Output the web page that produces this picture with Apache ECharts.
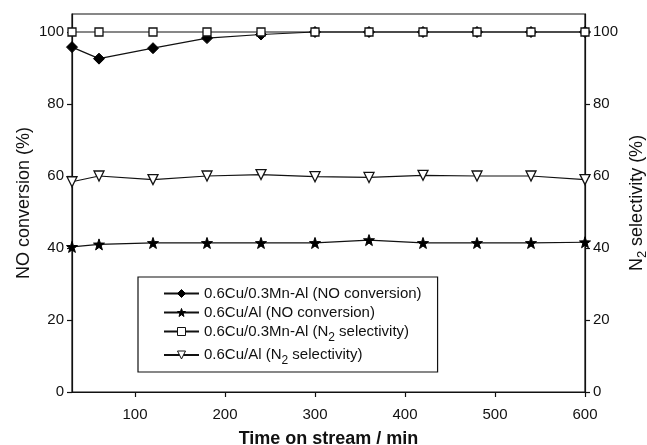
<!DOCTYPE html>
<html>
<head>
<meta charset="utf-8">
<script src="https://cdn.jsdelivr.net/npm/echarts@6/dist/echarts.min.js"></script>
<style>
  html, body { margin: 0; padding: 0; background: #fff; }
  #chart { width: 647px; height: 445px; }
</style>
</head>
<body>
<div id="chart"></div>
<script>
// Time on stream (min)
const times = [30, 60, 120, 180, 240, 300, 360, 420, 480, 540, 600];

// NO conversion (%)
const cuMnConversion = [95.8, 92.6, 95.5, 98.3, 99.3, 100, 100, 100, 100, 100, 100];
const cuConversion   = [40.3, 41.0, 41.4, 41.4, 41.4, 41.4, 42.2, 41.4, 41.4, 41.4, 41.6];

// N2 selectivity (%)
const cuMnSelectivity = [100, 100, 100, 100, 100, 100, 100, 100, 100, 100, 100];
const cuSelectivity   = [58.4, 60.0, 59.0, 60.0, 60.4, 59.8, 59.6, 60.2, 60.0, 60.0, 59.0];

const xTicks = [100, 200, 300, 400, 500, 600];
const yTicks = [0, 20, 40, 60, 80, 100];

const seriesNames = [
  '0.6Cu/0.3Mn-Al (NO conversion)',
  '0.6Cu/Al (NO conversion)',
  '0.6Cu/0.3Mn-Al (N2 selectivity)',
  '0.6Cu/Al (N2 selectivity)'
];

const starPath = 'path://M0,-10 L2.35,-3.24 L9.51,-3.09 L3.8,1.24 L5.88,8.09 L0,4 L-5.88,8.09 L-3.8,1.24 L-9.51,-3.09 L-2.35,-3.24 Z';

const pairs = ys => times.map((t, i) => [t, ys[i]]);

const font = 'Liberation Sans, Arial, sans-serif';

const lineBase = {
  type: 'line',
  lineStyle: { color: '#111', width: 1.2 },
  animation: false
};

const chart = echarts.init(document.getElementById('chart'), null, { renderer: 'canvas' });

const subRich = {
  n: { fontSize: 15, fontFamily: font, color: '#111' },
  s: { fontSize: 12, fontFamily: font, color: '#111', padding: [12, 0, 0, 0] }
};

chart.setOption({
  backgroundColor: '#fff',
  grid: {
    left: 72, right: 62, top: 14, bottom: 53,
    outerBoundsMode: 'none',
    show: true, borderColor: '#111', borderWidth: 1.2, backgroundColor: 'transparent'
  },
  xAxis: {
    type: 'value', min: 30, max: 600,
    name: 'Time on stream / min',
    nameLocation: 'middle', nameGap: 38, nameMoveOverlap: false,
    nameTextStyle: { fontSize: 18, fontWeight: 'bold', fontFamily: font, color: '#111' },
    axisLine: { lineStyle: { color: '#111', width: 1.2 } },
    axisTick: { show: true, length: 5, customValues: xTicks, lineStyle: { color: '#111', width: 1.2 } },
    axisLabel: { customValues: xTicks, fontSize: 15, fontFamily: font, color: '#111', margin: 15 },
    splitLine: { show: false }
  },
  yAxis: [
    {
      type: 'value', min: 0, max: 105, position: 'left',
      name: 'NO conversion (%)',
      nameLocation: 'middle', nameGap: 39, nameRotate: 90, nameMoveOverlap: false,
      nameTextStyle: { fontSize: 18, fontFamily: font, color: '#111' },
      axisLine: { show: true, lineStyle: { color: '#111', width: 1.2 } },
      axisTick: { show: true, length: 5, customValues: yTicks, lineStyle: { color: '#111', width: 1.2 } },
      axisLabel: { customValues: yTicks, fontSize: 15, fontFamily: font, color: '#111', margin: 8 },
      splitLine: { show: false }
    },
    {
      type: 'value', min: 0, max: 105, position: 'right',
      name: '{n|N}{s|2}{n| selectivity (%)}',
      nameLocation: 'middle', nameGap: 40, nameRotate: 90, nameMoveOverlap: false,
      nameTextStyle: {
        fontSize: 18, fontFamily: font, color: '#111',
        rich: {
          n: { fontSize: 18, fontFamily: font, color: '#111' },
          s: { fontSize: 13, fontFamily: font, color: '#111', padding: [11, 0, 0, 0] }
        }
      },
      axisLine: { show: true, lineStyle: { color: '#111', width: 1.2 } },
      axisTick: { show: true, length: 5, customValues: yTicks, lineStyle: { color: '#111', width: 1.2 } },
      axisLabel: { customValues: yTicks, fontSize: 15, fontFamily: font, color: '#111', margin: 8 },
      splitLine: { show: false }
    }
  ],
  legend: {
    orient: 'vertical',
    left: 138, top: 277,
    padding: [9, 16, 5, 25],
    itemWidth: 35, itemHeight: 10, itemGap: 4,
    borderColor: '#111', borderWidth: 1.2,
    backgroundColor: '#fff',
    data: seriesNames,
    itemStyle: { borderWidth: 1 },
    textStyle: { fontSize: 15, fontFamily: font, color: '#111', rich: subRich },
    formatter: name => {
      const i = name.indexOf('N2');
      if (i < 0) return '{n|' + name + '}';
      return '{n|' + name.slice(0, i) + 'N}{s|2}{n|' + name.slice(i + 2) + '}';
    }
  },
  series: [
    Object.assign({}, lineBase, {
      name: seriesNames[0], yAxisIndex: 0, z: 3,
      data: pairs(cuMnConversion),
      symbol: 'diamond', symbolSize: 11,
      itemStyle: { color: '#000', borderColor: '#000' }
    }),
    Object.assign({}, lineBase, {
      name: seriesNames[1], yAxisIndex: 0, z: 3,
      data: pairs(cuConversion),
      symbol: starPath, symbolSize: 11,
      itemStyle: { color: '#000', borderColor: '#000' }
    }),
    Object.assign({}, lineBase, {
      name: seriesNames[2], yAxisIndex: 1, z: 4,
      data: pairs(cuMnSelectivity),
      symbol: 'rect', symbolSize: 8,
      itemStyle: { color: '#fff', borderColor: '#111', borderWidth: 1.3 }
    }),
    Object.assign({}, lineBase, {
      name: seriesNames[3], yAxisIndex: 1, z: 3,
      data: pairs(cuSelectivity),
      symbol: 'triangle', symbolRotate: 180, symbolSize: 10,
      itemStyle: { color: '#fff', borderColor: '#111', borderWidth: 1.3 }
    })
  ]
});
</script>
</body>
</html>
